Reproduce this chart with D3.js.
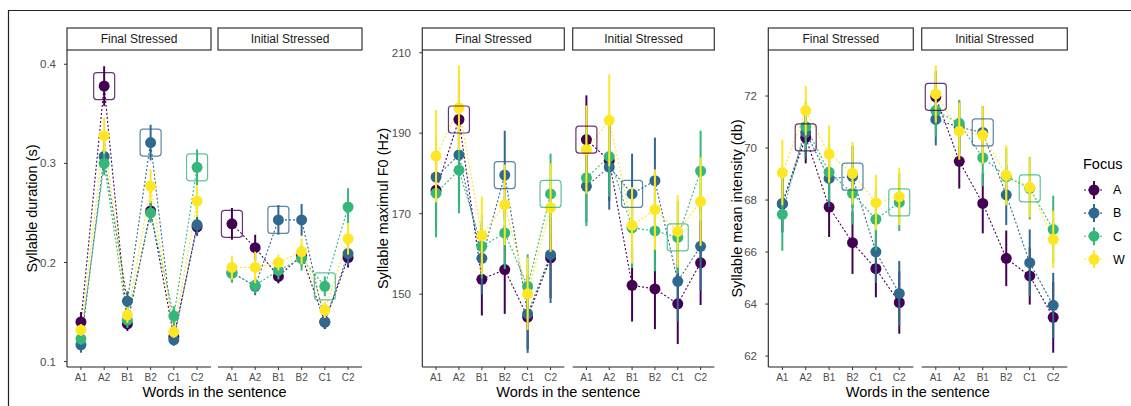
<!DOCTYPE html>
<meta charset="utf-8">
<title>Syllable measures by focus</title>
<style>
    body { margin: 0; background: #fff; }
    svg { display: block; font-family: "Liberation Sans", Arial, sans-serif; }
    .strip rect { fill: #fff; stroke: #333; stroke-width: 1.2; }
    .strip text { font-size: 12px; fill: #1a1a1a; }
    .tick-y { font-size: 11.5px; fill: #4d4d4d; }
    .tick-x { font-size: 10px; fill: #4d4d4d; }
    .axis-title { font-size: 14.5px; fill: #000; }
</style>
<body>
<svg width="1131" height="406"></svg>
<script src="https://d3js.org/d3.v7.min.js"></script>
<script>
// categories
const words = ["A1", "A2", "B1", "B2", "C1", "C2"];
const facets = ["Final Stressed", "Initial Stressed"];
const focus = ["A", "B", "C", "W"];
const focusColors = ["#440154", "#31688E", "#35B779", "#FDE725"];
// word highlighted for focus A, B, C in each facet
const highlightFinal = ["A2", "B2", "C2"];
const highlightInitial = ["A1", "B1", "C1"];

// Syllable duration (s): rows = focus A, B, C, W
const durationFinal = [
    [0.140, 0.378, 0.138, 0.252, 0.125, 0.236],
    [0.117, 0.307, 0.161, 0.321, 0.122, 0.238],
    [0.123, 0.300, 0.142, 0.250, 0.146, 0.296],
    [0.132, 0.328, 0.147, 0.277, 0.130, 0.262]
];
const durationFinalErr = [
    [0.010, 0.020, 0.007, 0.010, 0.006, 0.009],
    [0.008, 0.015, 0.010, 0.018, 0.006, 0.010],
    [0.006, 0.012, 0.008, 0.010, 0.010, 0.018],
    [0.006, 0.018, 0.008, 0.017, 0.006, 0.016]
];
const durationInitial = [
    [0.239, 0.215, 0.186, 0.207, 0.140, 0.205],
    [0.190, 0.176, 0.243, 0.243, 0.140, 0.209],
    [0.189, 0.177, 0.192, 0.204, 0.176, 0.256],
    [0.195, 0.195, 0.200, 0.211, 0.152, 0.224]
];
const durationInitialErr = [
    [0.016, 0.013, 0.007, 0.010, 0.007, 0.010],
    [0.010, 0.009, 0.015, 0.016, 0.006, 0.012],
    [0.009, 0.008, 0.009, 0.012, 0.010, 0.019],
    [0.012, 0.016, 0.008, 0.013, 0.008, 0.016]
];

// Syllable maximum F0 (Hz)
const f0Final = [
    [175.8, 193.4, 153.7, 156.1, 144.3, 159.0],
    [179.1, 184.6, 158.9, 179.6, 145.1, 159.8],
    [175.1, 180.8, 161.9, 165.2, 151.9, 174.9],
    [184.3, 196.3, 164.6, 172.2, 150.1, 171.5]
];
const f0FinalErr = [
    [10, 10, 9, 11, 8, 10],
    [10, 12, 9, 11, 9.7, 12],
    [11, 10.7, 8, 9, 8, 10],
    [11.5, 10.5, 9.7, 10, 9, 11]
];
const f0Initial = [
    [188.4, 183.2, 152.2, 151.3, 147.6, 157.8],
    [176.8, 181.6, 174.9, 178.2, 153.2, 161.9],
    [178.9, 184.2, 166.5, 165.7, 164.1, 180.6],
    [185.9, 193.2, 167.1, 171.0, 165.6, 173.0]
];
const f0InitialErr = [
    [11, 10, 9, 10, 10, 10.5],
    [9, 10.6, 10, 10.7, 10, 11],
    [12, 10, 10, 10, 9, 10],
    [11, 11.4, 9.5, 10, 9, 11]
];

// Syllable mean intensity (db)
const intensityFinal = [
    [67.85, 70.41, 67.73, 66.36, 65.36, 64.06],
    [67.87, 70.60, 68.83, 68.90, 66.01, 64.41],
    [67.45, 70.82, 69.07, 68.26, 67.26, 67.91],
    [69.05, 71.44, 69.77, 69.03, 67.90, 68.13]
];
const intensityFinalErr = [
    [1.1, 1.0, 1.15, 1.2, 1.1, 1.2],
    [1.1, 1.0, 1.1, 1.2, 1.2, 1.25],
    [1.4, 0.95, 1.1, 1.2, 1.2, 1.1],
    [1.25, 0.95, 1.1, 1.2, 1.06, 1.1]
];
const intensityInitial = [
    [71.97, 69.49, 67.87, 65.76, 65.08, 63.49],
    [71.10, 70.80, 70.60, 68.20, 65.59, 63.95],
    [71.44, 70.95, 69.63, 68.90, 68.45, 66.87],
    [72.08, 70.65, 70.50, 68.95, 68.49, 66.49]
];
const intensityInitialErr = [
    [1.0, 1.05, 1.15, 1.07, 1.1, 1.36],
    [1.0, 1.0, 1.0, 1.16, 1.28, 1.25],
    [1.0, 0.9, 1.1, 1.1, 1.2, 1.3],
    [1.1, 1.1, 1.1, 1.15, 1.15, 1.1]
];

const svg = d3.select("svg");

// outer frame (top and left edges)
svg.append("path")
    .attr("d", "M8.5,406 V10.5 H1131")
    .attr("fill", "none")
    .attr("stroke", "#222")
    .attr("stroke-width", 1.2);

const panels = [
    {
        title: "Syllable duration (s)", titleX: 32, tickRight: 61,
        facetX: [[67, 211], [218, 362]],
        domain: [0.0946, 0.4144], ticks: [0.1, 0.2, 0.3, 0.4], fmt: d3.format(".1f"),
        values: [durationFinal, durationInitial], errs: [durationFinalErr, durationInitialErr]
    },
    {
        title: "Syllable maximul F0 (Hz)", titleX: 383, tickRight: 416,
        facetX: [[422.3, 564.3], [572.7, 714.3]],
        domain: [131.9, 210.67], ticks: [150, 170, 190, 210], fmt: d3.format("d"),
        values: [f0Final, f0Initial], errs: [f0FinalErr, f0InitialErr]
    },
    {
        title: "Syllable mean intensity (db)", titleX: 737, tickRight: 762,
        facetX: [[768.3, 913.3], [921.7, 1067.3]],
        domain: [61.58, 73.77], ticks: [62, 64, 66, 68, 70, 72], fmt: d3.format("d"),
        values: [intensityFinal, intensityInitial], errs: [intensityFinalErr, intensityInitialErr]
    }
];

const plotTop = 50, plotBottom = 367;
const highlights = [highlightFinal, highlightInitial];

panels.forEach(p => {
    const y = d3.scaleLinear().domain(p.domain).range([plotBottom, plotTop]);
    const left = p.facetX[0][0];

    // y axis
    const ya = svg.append("g");
    ya.append("line").attr("x1", left).attr("x2", left)
        .attr("y1", plotTop).attr("y2", plotBottom)
        .attr("stroke", "#222").attr("stroke-width", 1.1);
    p.ticks.forEach(t => {
        ya.append("line").attr("x1", left - 3).attr("x2", left)
            .attr("y1", y(t)).attr("y2", y(t)).attr("stroke", "#333");
        ya.append("text").attr("class", "tick-y")
            .attr("x", p.tickRight - 5).attr("y", y(t)).attr("dy", "0.35em")
            .attr("text-anchor", "end").text(p.fmt(t));
    });
    const midY = (plotTop + plotBottom) / 2;
    svg.append("text").attr("class", "axis-title")
        .attr("transform", `translate(${p.titleX},${midY}) rotate(-90)`)
        .attr("text-anchor", "middle").attr("dy", "0.35em").text(p.title);

    // x title
    svg.append("text").attr("class", "axis-title")
        .attr("x", (p.facetX[0][0] + p.facetX[1][1]) / 2).attr("y", 397)
        .attr("text-anchor", "middle").text("Words in the sentence");

    facets.forEach((fname, fi) => {
        const [x0, x1] = p.facetX[fi];
        const x = d3.scalePoint().domain(words).range([x0, x1]).padding(0.6);
        const g = svg.append("g");

        // strip
        const strip = g.append("g").attr("class", "strip");
        strip.append("rect").attr("x", x0).attr("y", 28).attr("width", x1 - x0).attr("height", 22);
        strip.append("text").attr("x", (x0 + x1) / 2).attr("y", 39).attr("dy", "0.35em")
            .attr("text-anchor", "middle").text(fname);

        // x axis
        g.append("line").attr("x1", x0).attr("x2", x1).attr("y1", plotBottom).attr("y2", plotBottom)
            .attr("stroke", "#222").attr("stroke-width", 1.1);
        words.forEach(w => {
            g.append("line").attr("x1", x(w)).attr("x2", x(w))
                .attr("y1", plotBottom).attr("y2", plotBottom + 3).attr("stroke", "#333");
            g.append("text").attr("class", "tick-x").attr("x", x(w)).attr("y", plotBottom + 14)
                .attr("text-anchor", "middle").text(w);
        });

        const vals = p.values[fi], errs = p.errs[fi];
        const series = focus.map((f, si) => ({
            focus: f, color: focusColors[si],
            pts: words.map((w, wi) => ({ word: w, v: vals[si][wi], e: errs[si][wi] }))
        }));

        const line = d3.line().x(d => x(d.word)).y(d => y(d.v));
        g.append("g").selectAll("path").data(series).join("path")
            .attr("d", s => line(s.pts))
            .attr("fill", "none")
            .attr("stroke", s => s.color)
            .attr("stroke-width", 1.1)
            .attr("stroke-dasharray", "2,2");

        series.forEach(s => {
            const sg = g.append("g");
            sg.selectAll("line").data(s.pts).join("line")
                .attr("x1", d => x(d.word)).attr("x2", d => x(d.word))
                .attr("y1", d => y(d.v - d.e)).attr("y2", d => y(d.v + d.e))
                .attr("stroke", s.color).attr("stroke-width", 2);
            sg.selectAll("circle").data(s.pts).join("circle")
                .attr("cx", d => x(d.word)).attr("cy", d => y(d.v))
                .attr("r", 5.5).attr("fill", s.color);
        });

        // highlight boxes around focused word
        highlights[fi].forEach((w, si) => {
            const v = vals[si][words.indexOf(w)];
            g.append("rect")
                .attr("x", x(w) - 10.5).attr("y", y(v) - 13.5)
                .attr("width", 21).attr("height", 27).attr("rx", 3)
                .attr("fill", "none").attr("stroke", focusColors[si])
                .attr("stroke-opacity", 0.8).attr("stroke-width", 1.2);
        });
    });
});

// legend
const legend = svg.append("g");
legend.append("text").attr("x", 1083).attr("y", 164).attr("dy", "0.35em")
    .attr("font-size", 14.5).text("Focus");
focus.forEach((f, i) => {
    const ly = 190 + i * 23.1;
    legend.append("line").attr("x1", 1084).attr("x2", 1104).attr("y1", ly).attr("y2", ly)
        .attr("stroke", focusColors[i]).attr("stroke-width", 1.1).attr("stroke-dasharray", "2,2");
    legend.append("line").attr("x1", 1094).attr("x2", 1094).attr("y1", ly - 9).attr("y2", ly + 9)
        .attr("stroke", focusColors[i]).attr("stroke-width", 2);
    legend.append("circle").attr("cx", 1094).attr("cy", ly).attr("r", 5.5).attr("fill", focusColors[i]);
    legend.append("text").attr("x", 1113).attr("y", ly).attr("dy", "0.35em")
        .attr("font-size", 12.5).text(f);
});
</script>
</body>
</html>
